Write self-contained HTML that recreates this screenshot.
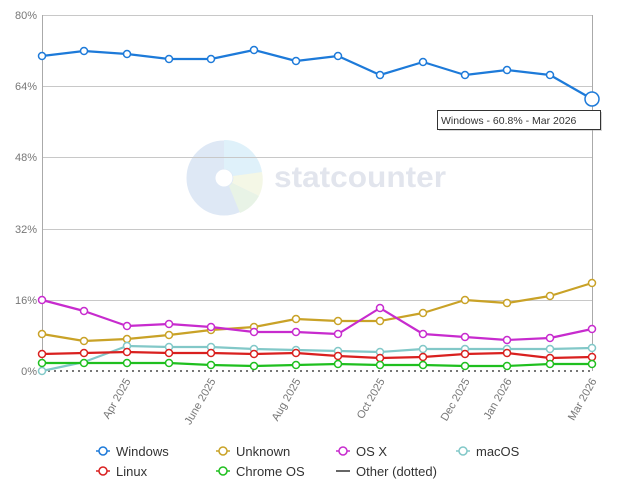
<!DOCTYPE html>
<html><head><meta charset="utf-8"><style>
body{margin:0;background:#fff;width:623px;height:483px;overflow:hidden;font-family:"Liberation Sans","DejaVu Sans",sans-serif}
</style></head><body>
<svg width="623" height="483" viewBox="0 0 623 483" xmlns="http://www.w3.org/2000/svg" font-family="Liberation Sans, DejaVu Sans, sans-serif">
<rect width="623" height="483" fill="#fff"/>
<!-- watermark -->
<g opacity="0.9">
<circle cx="224" cy="178" r="23" fill="none" stroke="#dbe6f5" stroke-width="29"/>
<path d="M224 140 A38 38 0 0 1 262 172 L233 176 A9 9 0 0 0 224 169 Z" fill="#dcf0fa"/>
<path d="M262 172 A38 38 0 0 1 259 196 L232 183 A9 9 0 0 0 233 176 Z" fill="#f3f7e4"/>
<path d="M259 196 A38 38 0 0 1 240 213 L229 186 A9 9 0 0 0 232 183 Z" fill="#e6f2e4"/>
<text x="274" y="187" font-size="30" font-weight="bold" fill="#dfe3ec" textLength="172" lengthAdjust="spacingAndGlyphs">statcounter</text>
</g>
<!-- grid -->
<g stroke="#c8c8c8" stroke-width="1">
<line x1="42" y1="15.5" x2="592" y2="15.5"/>
<line x1="42" y1="86.5" x2="592" y2="86.5"/>
<line x1="42" y1="157.5" x2="592" y2="157.5"/>
<line x1="42" y1="229.5" x2="592" y2="229.5"/>
<line x1="42" y1="300.5" x2="592" y2="300.5"/>
</g>
<line x1="42.5" y1="15" x2="42.5" y2="371" stroke="#aaa"/>
<line x1="592.5" y1="15" x2="592.5" y2="371" stroke="#aaa"/>
<g font-size="11" fill="#777" text-anchor="end">
<text x="37" y="19">80%</text><text x="37" y="90">64%</text><text x="37" y="161">48%</text>
<text x="37" y="233">32%</text><text x="37" y="304">16%</text><text x="37" y="375">0%</text>
</g>
<!-- other dotted -->
<line x1="42" y1="371" x2="592" y2="371" stroke="#777" stroke-width="2" stroke-dasharray="2,4"/>
<!-- series -->
<g fill="none" stroke-width="2.2" stroke-linejoin="round">
<polyline stroke="#1d7ad9" points="42,56 84,51 127,54 169,59 211,59 254,50 296,61 338,56 380,75 423,62 465,75 507,70 550,75 592,99"/>
<polyline stroke="#c9a227" points="42,334 84,341 127,339 169,335 211,330 254,327 296,319 338,321 380,321 423,313 465,300 507,303 550,296 592,283"/>
<polyline stroke="#c72bce" points="42,300 84,311 127,326 169,324 211,327 254,332 296,332 338,334 380,308 423,334 465,337 507,340 550,338 592,329"/>
<polyline stroke="#82c8c8" points="42,371 84,362 127,346 169,347 211,347 254,349 296,350 338,351 380,352 423,349 465,349 507,349 550,349 592,348"/>
<polyline stroke="#d9201f" points="42,354 84,353 127,352 169,353 211,353 254,354 296,353 338,356 380,358 423,357 465,354 507,353 550,358 592,357"/>
<polyline stroke="#1fbf1f" points="42,363 84,363 127,363 169,363 211,365 254,366 296,365 338,364 380,365 423,365 465,366 507,366 550,364 592,364"/>
</g>
<g fill="#fff" stroke-width="1.5">
<g stroke="#1d7ad9"><circle cx="42" cy="56" r="3.5"/><circle cx="84" cy="51" r="3.5"/><circle cx="127" cy="54" r="3.5"/><circle cx="169" cy="59" r="3.5"/><circle cx="211" cy="59" r="3.5"/><circle cx="254" cy="50" r="3.5"/><circle cx="296" cy="61" r="3.5"/><circle cx="338" cy="56" r="3.5"/><circle cx="380" cy="75" r="3.5"/><circle cx="423" cy="62" r="3.5"/><circle cx="465" cy="75" r="3.5"/><circle cx="507" cy="70" r="3.5"/><circle cx="550" cy="75" r="3.5"/><circle cx="592" cy="99" r="7"/></g>
<g stroke="#c9a227"><circle cx="42" cy="334" r="3.5"/><circle cx="84" cy="341" r="3.5"/><circle cx="127" cy="339" r="3.5"/><circle cx="169" cy="335" r="3.5"/><circle cx="211" cy="330" r="3.5"/><circle cx="254" cy="327" r="3.5"/><circle cx="296" cy="319" r="3.5"/><circle cx="338" cy="321" r="3.5"/><circle cx="380" cy="321" r="3.5"/><circle cx="423" cy="313" r="3.5"/><circle cx="465" cy="300" r="3.5"/><circle cx="507" cy="303" r="3.5"/><circle cx="550" cy="296" r="3.5"/><circle cx="592" cy="283" r="3.5"/></g>
<g stroke="#c72bce"><circle cx="42" cy="300" r="3.5"/><circle cx="84" cy="311" r="3.5"/><circle cx="127" cy="326" r="3.5"/><circle cx="169" cy="324" r="3.5"/><circle cx="211" cy="327" r="3.5"/><circle cx="254" cy="332" r="3.5"/><circle cx="296" cy="332" r="3.5"/><circle cx="338" cy="334" r="3.5"/><circle cx="380" cy="308" r="3.5"/><circle cx="423" cy="334" r="3.5"/><circle cx="465" cy="337" r="3.5"/><circle cx="507" cy="340" r="3.5"/><circle cx="550" cy="338" r="3.5"/><circle cx="592" cy="329" r="3.5"/></g>
<g stroke="#82c8c8"><circle cx="42" cy="371" r="3.5"/><circle cx="127" cy="346" r="3.5"/><circle cx="169" cy="347" r="3.5"/><circle cx="211" cy="347" r="3.5"/><circle cx="254" cy="349" r="3.5"/><circle cx="296" cy="350" r="3.5"/><circle cx="338" cy="351" r="3.5"/><circle cx="380" cy="352" r="3.5"/><circle cx="423" cy="349" r="3.5"/><circle cx="465" cy="349" r="3.5"/><circle cx="507" cy="349" r="3.5"/><circle cx="550" cy="349" r="3.5"/><circle cx="592" cy="348" r="3.5"/></g>
<g stroke="#d9201f"><circle cx="42" cy="354" r="3.5"/><circle cx="84" cy="353" r="3.5"/><circle cx="127" cy="352" r="3.5"/><circle cx="169" cy="353" r="3.5"/><circle cx="211" cy="353" r="3.5"/><circle cx="254" cy="354" r="3.5"/><circle cx="296" cy="353" r="3.5"/><circle cx="338" cy="356" r="3.5"/><circle cx="380" cy="358" r="3.5"/><circle cx="423" cy="357" r="3.5"/><circle cx="465" cy="354" r="3.5"/><circle cx="507" cy="353" r="3.5"/><circle cx="550" cy="358" r="3.5"/><circle cx="592" cy="357" r="3.5"/></g>
<g stroke="#1fbf1f"><circle cx="42" cy="363" r="3.5"/><circle cx="84" cy="363" r="3.5"/><circle cx="127" cy="363" r="3.5"/><circle cx="169" cy="363" r="3.5"/><circle cx="211" cy="365" r="3.5"/><circle cx="254" cy="366" r="3.5"/><circle cx="296" cy="365" r="3.5"/><circle cx="338" cy="364" r="3.5"/><circle cx="380" cy="365" r="3.5"/><circle cx="423" cy="365" r="3.5"/><circle cx="465" cy="366" r="3.5"/><circle cx="507" cy="366" r="3.5"/><circle cx="550" cy="364" r="3.5"/><circle cx="592" cy="364" r="3.5"/></g>
</g>
<!-- x labels -->
<g font-size="11" fill="#777" text-anchor="end">
<text transform="translate(131,381) rotate(-60)">Apr 2025</text>
<text transform="translate(216,381) rotate(-60)">June 2025</text>
<text transform="translate(301,381) rotate(-60)">Aug 2025</text>
<text transform="translate(385,381) rotate(-60)">Oct 2025</text>
<text transform="translate(470,381) rotate(-60)">Dec 2025</text>
<text transform="translate(512,381) rotate(-60)">Jan 2026</text>
<text transform="translate(597,381) rotate(-60)">Mar 2026</text>
</g>
<!-- tooltip -->
<rect x="439" y="112" width="163" height="19" fill="#999" opacity="0.4"/>
<rect x="437.5" y="110.5" width="163" height="19" fill="#fff" stroke="#333"/>
<text x="441" y="124" font-size="10.5" fill="#333">Windows - 60.8% - Mar 2026</text>
<!-- legend -->
<g font-size="13" fill="#333">
<g stroke-width="1.5" fill="#fff">
<line x1="96" y1="451" x2="110" y2="451" stroke="#1d7ad9"/><circle cx="103" cy="451" r="4" stroke="#1d7ad9"/>
<line x1="216" y1="451" x2="230" y2="451" stroke="#c9a227"/><circle cx="223" cy="451" r="4" stroke="#c9a227"/>
<line x1="336" y1="451" x2="350" y2="451" stroke="#c72bce"/><circle cx="343" cy="451" r="4" stroke="#c72bce"/>
<line x1="456" y1="451" x2="470" y2="451" stroke="#82c8c8"/><circle cx="463" cy="451" r="4" stroke="#82c8c8"/>
<line x1="96" y1="471" x2="110" y2="471" stroke="#d9201f"/><circle cx="103" cy="471" r="4" stroke="#d9201f"/>
<line x1="216" y1="471" x2="230" y2="471" stroke="#1fbf1f"/><circle cx="223" cy="471" r="4" stroke="#1fbf1f"/>
<line x1="336" y1="471" x2="350" y2="471" stroke="#666" stroke-width="2"/>
</g>
<text x="116" y="456">Windows</text><text x="236" y="456">Unknown</text><text x="356" y="456">OS X</text><text x="476" y="456">macOS</text>
<text x="116" y="476">Linux</text><text x="236" y="476">Chrome OS</text><text x="356" y="476">Other (dotted)</text>
</g>
</svg>
</body></html>
